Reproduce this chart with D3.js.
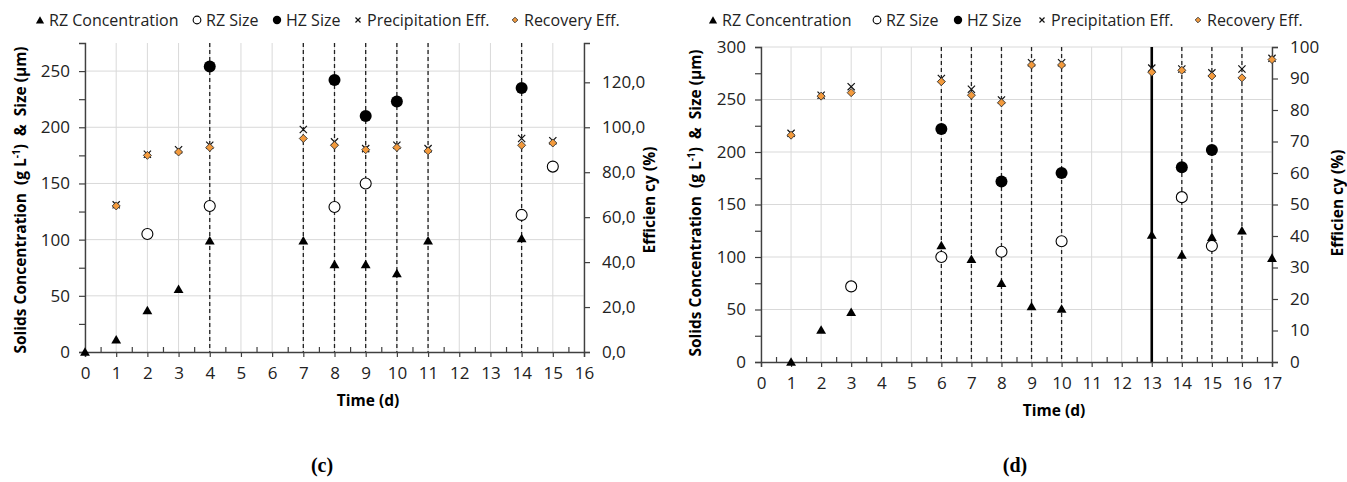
<!DOCTYPE html>
<html>
<head>
<meta charset="utf-8">
<script src="https://cdn.jsdelivr.net/npm/d3@7"></script>
<style>
  body { margin: 0; background: #fff; }
  svg { font-family: "Open Sans", sans-serif; }
</style>
</head>
<body>
<svg id="chart" width="1347" height="482"></svg>
<script>
// ---- data: panel (c) ----
const daysC    = [0, 1, 2, 3, 4, 7, 8, 9, 10, 11, 14, 15];
const rzConcC  = [0, 11, 37, 56, 99, 99, 78, 78, 70, 99, 101, null];
const rzSizeC  = [null, null, 105, null, 130, null, 129, 150, null, null, 122, 165];
const hzSizeC  = [null, null, null, null, 254, null, 242, 210, 223, null, 235, null];
const precEffC = [null, 65.5, 88, 90, 92, 99, 93.5, 90.5, 92, 90.5, 95, 94];
const recEffC  = [null, 65, 87.5, 89, 91, 95, 92, 90, 91, 89.5, 92, 93];
const dashedC  = [4, 7, 8, 9, 10, 11, 14];
const leftTicksC  = [0, 50, 100, 150, 200, 250];
const rightTicksC = [0, 20, 40, 60, 80, 100, 120];

// ---- data: panel (d) ----
const daysD    = [1, 2, 3, 6, 7, 8, 9, 10, 13, 14, 15, 16, 17];
const rzConcD  = [0, 30.5, 47.5, 111, 98, 75, 53, 50.5, 121, 102, 119, 125, 99];
const rzSizeD  = [null, null, 72, 100, null, 105, null, 115, null, 157, 110.5, null, null];
const hzSizeD  = [null, null, null, 222, null, 172, null, 180, null, 185.5, 202, null, null];
const precEffD = [72.6, 84.7, 87.4, 90, 86.6, 83.2, 95, 95, 93.3, 93, 91.8, 93, 96.4];
const recEffD  = [72, 84.4, 85.5, 89, 84.7, 82.3, 94.3, 94.3, 92, 92.6, 90.8, 90.2, 96];
const dashedD  = [6, 7, 8, 9, 10, 14, 15, 16];
const solidD   = [13];
const leftTicksD  = [0, 50, 100, 150, 200, 250, 300];
const rightTicksD = [0, 10, 20, 30, 40, 50, 60, 70, 80, 90, 100];

const legendNames = ["RZ Concentration", "RZ Size", "HZ Size", "Precipitation Eff.", "Recovery Eff."];
const orange = "#F39A3C";

const svg = d3.select("#chart");

// marker drawers
function marker(g, type, x, y, s) {
  s = s || 1;
  if (type === "tri") {
    g.append("path").attr("d", d3.symbol(d3.symbolTriangle, 42 * s)())
      .attr("transform", `translate(${x},${y + 1})`).attr("fill", "#000");
  } else if (type === "open") {
    g.append("circle").attr("cx", x).attr("cy", y).attr("r", 5.5 * s)
      .attr("fill", "#fff").attr("stroke", "#000").attr("stroke-width", 1.1);
  } else if (type === "fill") {
    g.append("circle").attr("cx", x).attr("cy", y).attr("r", 6 * s).attr("fill", "#000");
  } else if (type === "x") {
    const r = 3.6 * s;
    g.append("path").attr("d", `M${x - r},${y - r}L${x + r},${y + r}M${x - r},${y + r}L${x + r},${y - r}`)
      .attr("stroke", "#111").attr("stroke-width", 1.2);
  } else if (type === "dia") {
    const r = 4 * s;
    g.append("path").attr("d", `M${x},${y - r}L${x + r},${y}L${x},${y + r}L${x - r},${y}Z`)
      .attr("fill", orange).attr("stroke", "#333").attr("stroke-width", 0.9);
  }
}

function drawPanel(p) {
  const g = svg.append("g");
  const x = d3.scaleLinear().domain([p.xMin, p.xMax]).range([p.left, p.right]);
  const yL = d3.scaleLinear().domain([0, p.leftMax]).range([p.bottom, p.top]);
  const yR = d3.scaleLinear().domain([0, p.rightMax]).range([p.bottom, p.top]);

  // grid
  const xs = d3.range(p.xMin, p.xMax + 1);
  g.selectAll(".vg").data(xs).join("line")
    .attr("x1", d => x(d)).attr("x2", d => x(d)).attr("y1", p.top).attr("y2", p.bottom)
    .attr("stroke", "#d9d9d9").attr("stroke-width", 1);
  g.selectAll(".hg").data(p.leftTicks.filter(d => d > 0)).join("line")
    .attr("x1", p.left).attr("x2", p.right).attr("y1", d => yL(d)).attr("y2", d => yL(d))
    .attr("stroke", "#d9d9d9").attr("stroke-width", 1);

  // dashed / solid vertical markers
  g.selectAll(".dl").data(p.dashed).join("line")
    .attr("x1", d => x(d)).attr("x2", d => x(d)).attr("y1", p.top).attr("y2", p.bottom)
    .attr("stroke", "#222").attr("stroke-width", 1.3).attr("stroke-dasharray", "4,3");
  g.selectAll(".sl").data(p.solid || []).join("line")
    .attr("x1", d => x(d)).attr("x2", d => x(d)).attr("y1", p.top).attr("y2", p.bottom)
    .attr("stroke", "#000").attr("stroke-width", 2.6);

  // axes
  const axisColor = "#404040";
  g.append("g").attr("transform", `translate(0,${p.bottom})`)
    .call(d3.axisBottom(x).tickValues(xs).tickSize(5).tickPadding(10).tickFormat(d3.format("d")));
  g.append("g").attr("transform", `translate(0,${p.bottom})`)
    .call(d3.axisTop(x).tickValues(xs.slice(0, -1).map(d => d + 0.5)).tickSize(5).tickFormat(""))
    .select(".domain").remove();
  g.append("g").attr("transform", `translate(${p.left},0)`)
    .call(d3.axisLeft(yL).tickValues(p.leftTicks).tickSize(6).tickPadding(9));
  g.append("g").attr("transform", `translate(${p.left},0)`)
    .call(d3.axisLeft(yL).tickValues(d3.range(25, p.leftMax, 50)).tickSize(6).tickFormat(""))
    .select(".domain").remove();
  g.append("g").attr("transform", `translate(${p.right},0)`)
    .call(d3.axisRight(yR).tickValues(p.rightTicks).tickSize(6).tickPadding(12).tickFormat(p.rightFmt));

  g.selectAll(".domain").attr("stroke", axisColor).attr("stroke-width", 1.4);
  g.selectAll(".tick line").attr("stroke", axisColor).attr("stroke-width", 1.2);
  g.selectAll(".tick text").attr("font-size", 17).attr("fill", "#222")
    .attr("font-family", "'Open Sans', sans-serif");

  // markers
  const ml = g.append("g");
  p.days.forEach((d, i) => {
    if (p.prec[i] != null) marker(ml, "x", x(d), yR(p.prec[i]));
    if (p.rec[i] != null) marker(ml, "dia", x(d), yR(p.rec[i]));
    if (p.hz[i] != null) marker(ml, "fill", x(d), yL(p.hz[i]));
    if (p.rzs[i] != null) marker(ml, "open", x(d), yL(p.rzs[i]));
    if (p.rzc[i] != null) marker(ml, "tri", x(d), yL(p.rzc[i]));
  });

  // titles
  g.append("text").attr("x", p.xTitleX).attr("y", p.bottom + 54)
    .attr("text-anchor", "middle").attr("font-size", 15.5).attr("font-weight", "bold").text("Time (d)");
  const lt = g.append("text").attr("transform", `translate(${p.lTitleX},${p.lTitleY}) rotate(-90)`)
    .attr("text-anchor", "middle").attr("font-size", 15.5).attr("font-weight", "bold");
  lt.append("tspan").text("Solids Concentration\u00a0\u00a0(g L");
  lt.append("tspan").attr("font-size", 10).attr("dy", -6).text("-1");
  lt.append("tspan").attr("dy", 6).text(")\u00a0\u00a0&\u00a0\u00a0Size (\u00b5m)");
  g.append("text").attr("transform", `translate(${p.rTitleX},${p.lTitleY}) rotate(-90)`)
    .attr("text-anchor", "middle").attr("font-size", 15.5).attr("font-weight", "bold").text("Efficien cy (%)");

  // legend
  const types = ["tri", "open", "fill", "x", "dia"];
  const lg = g.append("g");
  p.legendX.forEach((lx, i) => {
    marker(lg, types[i], lx, 20, 0.7);
    lg.append("text").attr("x", lx + 9).attr("y", 26).attr("font-size", 16).attr("fill", "#222")
      .text(legendNames[i]);
  });

  // caption
  svg.append("text").attr("x", p.capX).attr("y", 472).attr("text-anchor", "middle")
    .attr("font-family", "'Liberation Serif', serif").attr("font-weight", "bold").attr("font-size", 20)
    .text(p.caption);
}

drawPanel({
  days: daysC, rzc: rzConcC, rzs: rzSizeC, hz: hzSizeC, prec: precEffC, rec: recEffC,
  dashed: dashedC, solid: [], xMin: 0, xMax: 16, left: 85, right: 584, top: 43, bottom: 352,
  leftMax: 275, rightMax: 137.5, leftTicks: leftTicksC, rightTicks: rightTicksC,
  rightFmt: d => d3.format(".1f")(d).replace(".", ","),
  xTitleX: 368, lTitleX: 26, lTitleY: 200, rTitleX: 655,
  legendX: [40, 197, 277, 358, 515], capX: 322, caption: "(c)"
});

drawPanel({
  days: daysD, rzc: rzConcD, rzs: rzSizeD, hz: hzSizeD, prec: precEffD, rec: recEffD,
  dashed: dashedD, solid: solidD, xMin: 0, xMax: 17, left: 761, right: 1272, top: 47, bottom: 362,
  leftMax: 300, rightMax: 100, leftTicks: leftTicksD, rightTicks: rightTicksD,
  rightFmt: d3.format("d"),
  xTitleX: 1054, lTitleX: 701, lTitleY: 203, rTitleX: 1343,
  legendX: [713, 877, 958, 1042, 1198], capX: 1015, caption: "(d)"
});
</script>
</body>
</html>
